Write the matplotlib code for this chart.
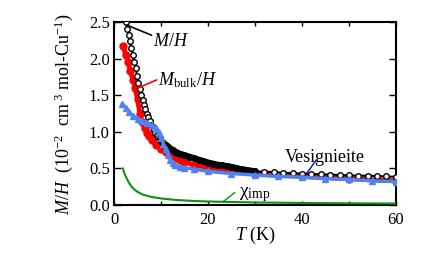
import numpy as np
import matplotlib
matplotlib.use("Agg")
import matplotlib.pyplot as plt
from matplotlib.ticker import MultipleLocator, FuncFormatter

plt.rcParams['font.family'] = ['Liberation Serif', 'DejaVu Serif']
plt.rcParams['mathtext.fontset'] = 'custom'
plt.rcParams['mathtext.rm'] = 'Liberation Serif'
plt.rcParams['mathtext.it'] = 'Liberation Serif:italic'

# M/H (total), black open circles
T_mh = [2.5, 2.8, 3.1, 3.4, 3.7, 4.0, 4.3, 4.6, 4.9, 5.2, 5.5, 5.8, 6.1, 6.4,
        6.7, 7.0, 7.3, 7.6, 7.9, 8.2, 8.5, 8.8, 9.1, 9.4, 9.7, 10.0, 10.5,
        11, 11.5, 12, 12.5, 13, 13.5, 14, 15, 16, 17, 18, 19, 20, 21, 22, 23,
        24, 25, 26, 27, 28, 29, 30, 32, 34, 36, 38, 40, 42, 44, 46, 48, 50,
        52, 54, 56, 58, 60]
mh = [2.50, 2.41, 2.33, 2.24, 2.15, 2.05, 1.96, 1.87, 1.77, 1.67, 1.58, 1.50,
      1.43, 1.37, 1.31, 1.25, 1.20, 1.15, 1.10, 1.06, 1.02, 0.99, 0.96, 0.93,
      0.91, 0.88, 0.85, 0.82, 0.795, 0.77, 0.75, 0.73, 0.715, 0.70, 0.68,
      0.66, 0.64, 0.62, 0.60, 0.58, 0.565, 0.55, 0.54, 0.53, 0.52, 0.505,
      0.49, 0.48, 0.47, 0.46, 0.455, 0.45, 0.44, 0.435, 0.43, 0.425, 0.42,
      0.415, 0.41, 0.405, 0.40, 0.40, 0.395, 0.39, 0.385]

# M_bulk/H, red filled circles
T_bulk = [2.0, 2.5, 3.0, 3.5, 4.0, 4.5, 5.0, 5.5, 6.0, 6.5, 7.0, 7.5, 8.0, 9.0,
          10, 11, 12, 13, 14, 15, 17, 20, 25, 30, 40, 50, 60]
bulk = [2.17, 2.05, 1.95, 1.83, 1.71, 1.60, 1.45, 1.25, 1.13, 1.05, 0.99, 0.94,
        0.89, 0.82, 0.77, 0.72, 0.68, 0.64, 0.61, 0.59, 0.55, 0.51, 0.46, 0.43,
        0.39, 0.36, 0.33]

# Vesignieite, blue
T_ves = [1.8, 2.5, 3.2, 4.0, 5.0, 6.0, 7.0, 8.0, 9.0, 9.5, 10.0, 10.5, 11.0,
         11.5, 12.0, 12.5, 13.0, 14.0, 15.0, 17.0, 20.0, 25.0, 30.0, 35.0,
         40.0, 45.0, 50.0, 55.0, 60.0]
ves = [1.38, 1.33, 1.27, 1.22, 1.18, 1.15, 1.12, 1.09, 1.05, 1.00, 0.92, 0.84,
       0.76, 0.69, 0.62, 0.58, 0.55, 0.52, 0.51, 0.49, 0.46, 0.43, 0.41, 0.39,
       0.38, 0.36, 0.35, 0.33, 0.32]

# chi_imp, green
T_imp = [1.85, 2.3, 2.8, 3.4, 4.0, 5.0, 6.2, 8.0, 10, 13, 17, 20, 30, 40, 50, 60]
imp = [0.50, 0.42, 0.35, 0.28, 0.23, 0.18, 0.14, 0.11, 0.09, 0.07, 0.055,
       0.048, 0.035, 0.028, 0.023, 0.02]

blue = '#4f82f2'
green = '#0e8f17'

fig = plt.figure(figsize=(4.36, 2.63), dpi=100)
ax = fig.add_axes([0.2615, 0.2205, 0.6465, 0.6955])

ax.plot(T_bulk, bulk, '-', color='red', lw=3.5, zorder=2)
ax.plot(T_bulk, bulk, 'o', color='red', ms=5, zorder=2)
ax.plot(T_mh, mh, '-', color='black', lw=1.5, zorder=3)
ax.plot(T_mh, mh, 'o', mfc='white', mec='black', ms=4, mew=1.0, zorder=3)
# dense part of the measurement: circles merge into a solid band
Tm = np.array(T_mh)
band = (Tm >= 10) & (Tm <= 30)
ax.plot(Tm[band], np.array(mh)[band], '-', color='black', lw=4.5,
        solid_capstyle='round', zorder=3.5)
ax.plot(T_ves, ves, '-', color=blue, lw=2.5, marker='^', ms=4, zorder=4)
ax.plot(T_imp, imp, '-', color=green, lw=1.5, zorder=4)

ax.set_xlim(0, 60)
ax.set_ylim(0, 2.5)
ax.xaxis.set_major_locator(MultipleLocator(10))
ax.xaxis.set_major_formatter(FuncFormatter(lambda v, p: '%d' % v if v % 20 == 0 else ''))
ax.yaxis.set_major_locator(MultipleLocator(0.5))
ax.yaxis.set_major_formatter(FuncFormatter(lambda v, p: '%.1f' % v))
ax.tick_params(axis='x', direction='in', length=3, width=1, top=True, labelsize=12, pad=5)
ax.tick_params(axis='y', direction='in', length=5, width=1, right=True, labelsize=12, pad=3)
for s in ax.spines.values():
    s.set_linewidth(1.5)

ax.set_xlabel(r'$T$ (K)', fontsize=13, labelpad=-2)
ax.set_ylabel(r'$M/H$  (10$^{-2}$  cm$^{\ 3}$ mol-Cu$^{-1}$)', fontsize=13, labelpad=10)

line = dict(arrowstyle='-', lw=1.2, shrinkA=0, shrinkB=0)
ax.annotate('', xy=(2.7, 2.46), xytext=(8.0, 2.32), arrowprops=dict(line, color='black'))
ax.text(8.3, 2.24, r'$M/H$', fontsize=13, va='center')
ax.annotate('', xy=(5.1, 1.6), xytext=(9.1, 1.71), arrowprops=dict(line, color='red'))
ax.text(9.4, 1.71, r'$M_{\rm bulk}/H$', fontsize=13, va='center')
ax.annotate('', xy=(41, 0.43), xytext=(43.1, 0.62), arrowprops=dict(line, color='blue', lw=1.0))
ax.text(36.4, 0.585, 'Vesignieite', fontsize=13, va='baseline')
ax.annotate('', xy=(23.2, 0.045), xytext=(25.7, 0.17), arrowprops=dict(line, color=green, lw=1.0))
ax.text(26.6, 0.14, r'χ$_{\rm imp}$', fontsize=14, va='center')

fig.savefig('out.png', dpi=100)
